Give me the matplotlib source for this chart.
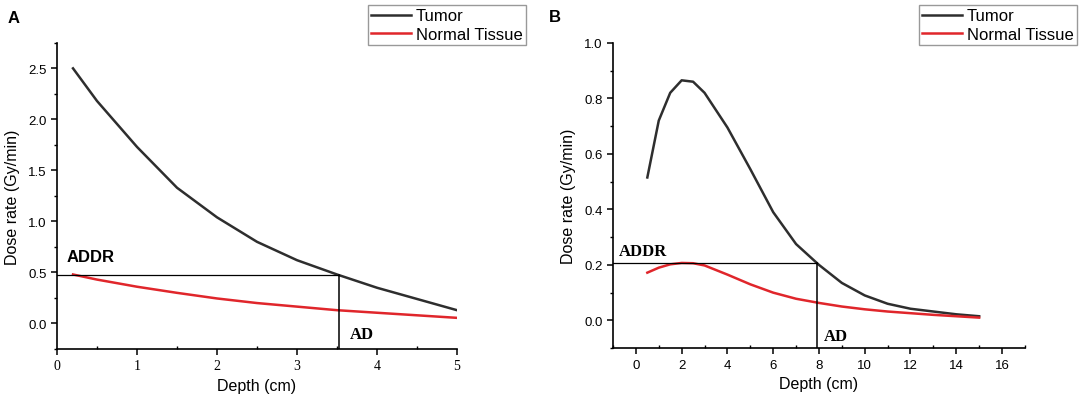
import numpy as np
import matplotlib
matplotlib.use("Agg")
import matplotlib.pyplot as plt
from matplotlib.ticker import MultipleLocator

plt.rcParams['font.family'] = ['Liberation Sans', 'DejaVu Sans']

# panel A: dose rate vs depth
depth_a = [0.2, 0.5, 1.0, 1.5, 2.0, 2.5, 3.0, 3.5, 4.0, 4.5, 5.0]
tumor_a = [2.50, 2.18, 1.73, 1.33, 1.04, 0.80, 0.62, 0.48, 0.35, 0.24, 0.13]
normal_a = [0.48, 0.43, 0.36, 0.30, 0.245, 0.20, 0.165, 0.13, 0.105, 0.08, 0.055]
addr_a = 0.475
ad_a = 3.53

# panel B
depth_b = [0.5, 1, 1.5, 2, 2.5, 3, 4, 5, 6, 7, 8, 9, 10, 11, 12, 13, 14, 15]
tumor_b = [0.515, 0.72, 0.82, 0.865, 0.86, 0.82, 0.695, 0.545, 0.39, 0.275, 0.20,
           0.135, 0.09, 0.06, 0.042, 0.032, 0.022, 0.015]
normal_b = [0.172, 0.19, 0.202, 0.207, 0.206, 0.198, 0.165, 0.13, 0.10, 0.078, 0.063,
            0.05, 0.04, 0.032, 0.026, 0.02, 0.015, 0.01]
addr_b = 0.207
ad_b = 7.92

tumor_color = '#2e2e2e'
normal_color = '#e0262b'

fig = plt.figure(figsize=(10.84, 4.06), dpi=100)
ax1 = fig.add_axes([0.0526, 0.138, 0.369, 0.754])
ax2 = fig.add_axes([0.5655, 0.140, 0.380, 0.752])


def style_axes(ax):
    ax.spines['top'].set_visible(False)
    ax.spines['right'].set_visible(False)
    ax.spines['left'].set_linewidth(1.2)
    ax.spines['bottom'].set_linewidth(1.2)
    ax.tick_params(which='major', direction='out', length=4, width=1.1, labelsize=9.5)
    ax.tick_params(which='minor', direction='out', length=2, width=1.0)
    ax.set_xlabel('Depth (cm)', fontsize=11.5, labelpad=4)
    ax.set_ylabel('Dose rate (Gy/min)', fontsize=11.5, labelpad=6)


def add_legend(ax, right):
    ax.legend(loc='upper right', bbox_to_anchor=(right, 0.985), bbox_transform=fig.transFigure,
              fontsize=12, fancybox=False, framealpha=1, edgecolor='#999999',
              borderpad=0.2, labelspacing=0.2, handlelength=2.4, handletextpad=0.3,
              borderaxespad=0)


# ---- A
ax1.plot(depth_a, tumor_a, color=tumor_color, lw=1.8, label='Tumor')
ax1.plot(depth_a, normal_a, color=normal_color, lw=1.8, label='Normal Tissue')
ax1.plot([0, ad_a], [addr_a, addr_a], color='black', lw=0.9)
ax1.plot([ad_a, ad_a], [addr_a, -0.25], color='black', lw=1.1)
ax1.set_xlim(0, 5)
ax1.set_ylim(-0.25, 2.75)
ax1.xaxis.set_major_locator(MultipleLocator(1))
ax1.xaxis.set_minor_locator(MultipleLocator(0.5))
ax1.yaxis.set_major_locator(MultipleLocator(0.5))
ax1.yaxis.set_minor_locator(MultipleLocator(0.25))
style_axes(ax1)
ax1.tick_params(axis='x', which='minor', direction='in')
ax1.set_yticks([0.0, 0.5, 1.0, 1.5, 2.0, 2.5])
ax1.set_yticklabels(['0.0', '0.5', '1.0', '1.5', '2.0', '2.5'])
for lab in ax1.get_xticklabels():
    lab.set_family('Liberation Serif')
    lab.set_fontsize(10)
ax1.text(0.12, 0.66, 'ADDR', fontsize=12, fontweight='bold', va='center')
ax1.text(3.66, -0.1, 'AD', fontsize=12, fontweight='bold', family='Liberation Serif', va='center')
add_legend(ax1, 0.4852)
fig.text(0.007, 0.955, 'A', fontsize=12, fontweight='bold', va='center')

# ---- B
ax2.plot(depth_b, tumor_b, color=tumor_color, lw=1.8, label='Tumor')
ax2.plot(depth_b, normal_b, color=normal_color, lw=1.8, label='Normal Tissue')
ax2.plot([-1, ad_b], [addr_b, addr_b], color='black', lw=0.9)
ax2.plot([ad_b, ad_b], [addr_b, -0.1], color='black', lw=1.1)
ax2.set_xlim(-1, 17)
ax2.set_ylim(-0.1, 1.0)
ax2.xaxis.set_major_locator(MultipleLocator(2))
ax2.xaxis.set_minor_locator(MultipleLocator(1))
ax2.yaxis.set_major_locator(MultipleLocator(0.2))
ax2.yaxis.set_minor_locator(MultipleLocator(0.1))
style_axes(ax2)
ax2.tick_params(axis='x', which='minor', direction='in')
ax2.set_yticks([0.0, 0.2, 0.4, 0.6, 0.8, 1.0])
ax2.set_yticklabels(['0.0', '0.2', '0.4', '0.6', '0.8', '1.0'])
ax2.text(-0.75, 0.25, 'ADDR', fontsize=12, fontweight='bold', family='Liberation Serif', va='center')
ax2.text(8.2, -0.057, 'AD', fontsize=12, fontweight='bold', family='Liberation Serif', va='center')
add_legend(ax2, 0.9935)
fig.text(0.506, 0.958, 'B', fontsize=12, fontweight='bold', va='center')

fig.savefig('out.png', dpi=100)
